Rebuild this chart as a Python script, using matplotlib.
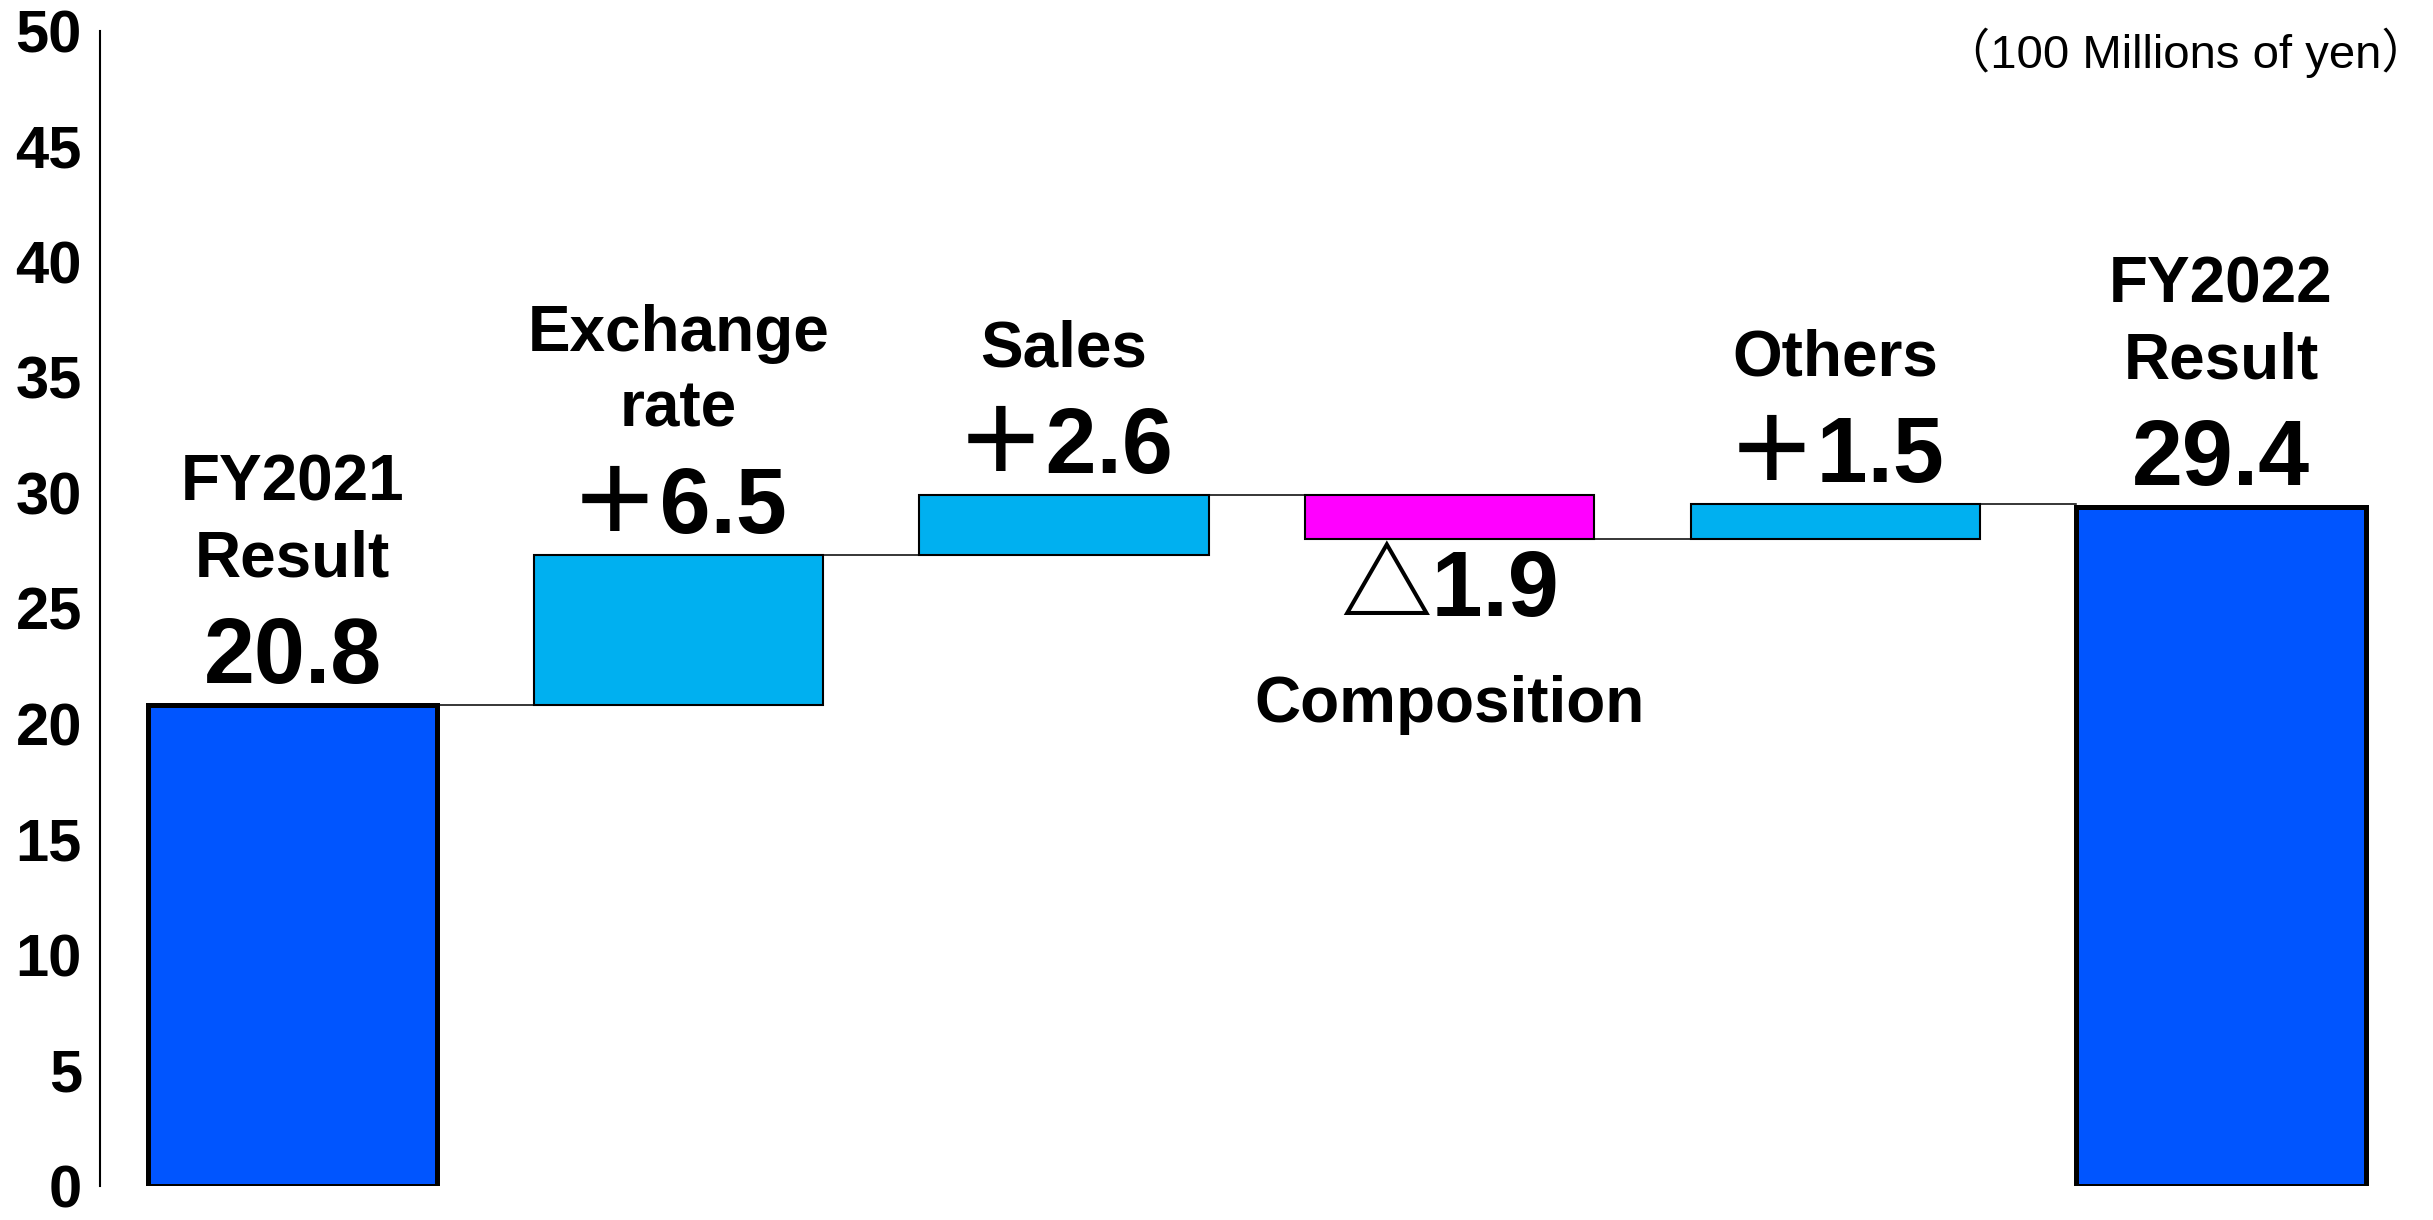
import numpy as np
import matplotlib
matplotlib.use('Agg')
import matplotlib.pyplot as plt

plt.rcParams['font.family'] = ['Liberation Sans', 'Noto Sans CJK JP', 'DejaVu Sans']

## Data ##
start_value = 20.8
end_value = 29.4
deltas = [6.5, 2.6, -1.9, 1.5]
categories = ['FY2021\nResult', 'Exchange\nrate', 'Sales', 'Composition', 'Others', 'FY2022\nResult']
value_labels = ['20.8', '＋6.5', '＋2.6', '△1.9', '＋1.5', '29.4']
yticks = np.arange(0, 55, 5)
unit_label = '（100 Millions of yen）'

total_color = '#0055FF'
up_color = '#00B0F0'
down_color = '#FF00FF'

## Set Up Figure ##
fig = plt.figure(figsize=(24.33, 12.2), dpi=100)
ax = fig.add_axes([0.0411, 0.028, 0.951, 0.9466])

width = 0.75
x = np.arange(len(categories))

# bottoms / heights of the waterfall
levels = [start_value]
for d in deltas:
    levels.append(levels[-1] + d)
bottoms = [0]
heights = [start_value]
colors = [total_color]
for i, d in enumerate(deltas):
    bottoms.append(min(levels[i], levels[i + 1]))
    heights.append(abs(d))
    colors.append(up_color if d > 0 else down_color)
bottoms.append(0)
heights.append(end_value)
colors.append(total_color)

for i in range(len(x)):
    is_total = i == 0 or i == len(x) - 1
    ax.bar(x[i], heights[i], width, bottom=bottoms[i], color=colors[i],
           edgecolor='black', linewidth=3.6 if is_total else 1.5, zorder=3)

# connector lines
for i in range(len(x) - 1):
    ax.plot([x[i] + width / 2, x[i + 1] - width / 2], [levels[i], levels[i]],
            color='black', linewidth=1.1, zorder=2)

# labels
for i in range(len(x)):
    top = bottoms[i] + heights[i]
    lines = categories[i].split('\n')
    neg = i not in (0, len(x) - 1) and deltas[i - 1] < 0
    if neg:
        ax.text(x[i], bottoms[i] - 2.3, value_labels[i], ha='center', va='center',
                fontsize=66, fontweight='bold')
        ax.text(x[i], bottoms[i] - 7.2, categories[i], ha='center', va='center',
                fontsize=46, fontweight='bold')
    else:
        ax.text(x[i], top + 2.0, value_labels[i], ha='center', va='center',
                fontsize=66, fontweight='bold')
        for j, line in enumerate(reversed(lines)):
            ax.text(x[i], top + 6.3 + 3.3 * j, line, ha='center', va='center',
                    fontsize=46, fontweight='bold')

ax.set_xlim(-0.5, 5.5)
ax.set_ylim(0, 50)
ax.set_yticks(yticks)
ax.set_yticklabels([str(t) for t in yticks], fontsize=43, fontweight='bold')
ax.tick_params(axis='y', length=0, pad=13)
ax.set_xticks([])
for s in ['top', 'right', 'bottom']:
    ax.spines[s].set_visible(False)
ax.spines['left'].set_linewidth(1.5)

fig.text(0.998, 0.957, unit_label, ha='right', va='center', fontsize=34)

fig.savefig('out.png', dpi=100)
